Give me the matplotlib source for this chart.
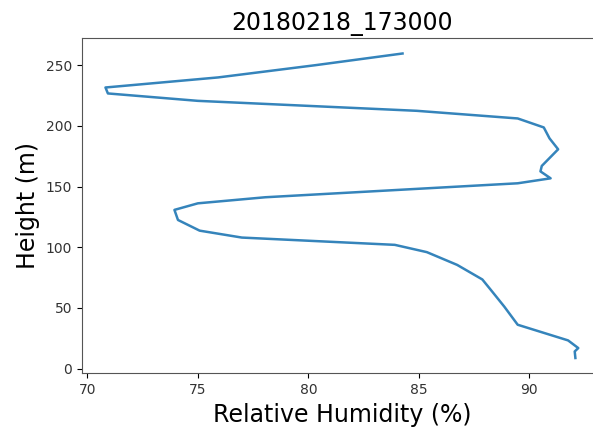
import matplotlib
matplotlib.use("Agg")
import matplotlib.pyplot as plt

# relative humidity profile (bottom to top)
rh = [92.08, 92.05, 92.21, 91.75, 89.47, 88.86, 88.25, 87.87, 86.73, 85.36,
      83.91, 76.99, 75.08, 74.1, 73.94, 75.0, 78.05, 89.47, 90.96, 90.5,
      90.56, 91.3, 90.91, 90.65, 89.47, 84.9, 75.0, 70.93, 70.82,
      75.92, 80.33, 84.26]
height = [8.8, 14.2, 17.0, 23.3, 36.2, 51.2, 65.0, 73.5, 85.5, 96.0,
          102.0, 108.0, 113.7, 122.5, 130.8, 136.2, 141.2, 152.7, 156.8, 162.5,
          167.0, 180.7, 189.7, 198.7, 206.1, 212.4, 220.6, 226.7, 231.6,
          239.9, 250.0, 259.6]
title = "20180218_173000"

fig = plt.figure(figsize=(5.93, 4.30), dpi=100)
ax = fig.add_axes([0.138, 0.132, 0.877, 0.779])
ax.plot(rh, height, color="#1f77b4", lw=1.8, alpha=0.9)
ax.set_title(title, fontsize=17)
ax.set_xlabel("Relative Humidity (%)", fontsize=17)
ax.set_ylabel("Height (m)", fontsize=17)
ax.set_xticks([70, 75, 80, 85, 90])
ax.set_yticks([0, 50, 100, 150, 200, 250])
ax.tick_params(labelsize=10, labelcolor="#333333")
for s in ax.spines.values():
    s.set_color("#555555")

fig.savefig("out.png", dpi=100)
